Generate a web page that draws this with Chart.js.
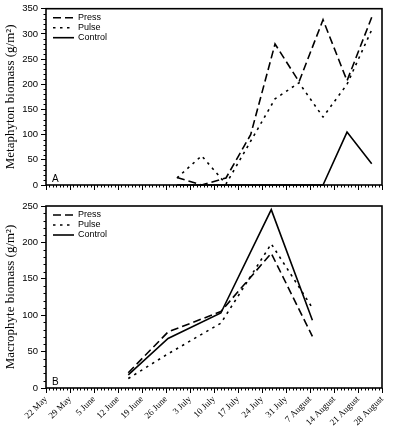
<!DOCTYPE html>
<html>
<head>
<meta charset="utf-8">
<script src="https://cdn.jsdelivr.net/npm/chart.js@4/dist/chart.umd.min.js"></script>
<style>
  html, body { margin: 0; padding: 0; background: #fff; }
  #wrap { position: relative; width: 398px; height: 430px; }
  #c1 { position: absolute; left: 0; top: 0; }
  #c2 { position: absolute; left: 0; top: 195px; }
</style>
</head>
<body>
<div id="wrap">
  <canvas id="c1" width="398" height="195"></canvas>
  <canvas id="c2" width="398" height="235"></canvas>
</div>
<script>
// ---- tick labels (x axis: weekly, days since 22 May) ----
const weekLabels = ['22 May','29 May','5 June','12 June','19 June','26 June','3 July','10 July',
                    '17 July','24 July','31 July','7 August','14 August','21 August','28 August'];
const seriesNames = ['Press', 'Pulse', 'Control'];

// ---- Panel A: Metaphyton biomass ----
const topDays    = [38.2, 45.4, 52.5, 59.7, 66.8, 73.8, 80.8, 87.8, 95.0];
const topPress   = [15, 0, 14, 100, 280, 205, 328, 207, 333];
const topPulse   = [14, 58, 2, 87, 171, 203, 135, 200, 308];
const topControl = [0, 0, 0, 0, 0, 0, 0, 105, 42];

// ---- Panel B: Macrophyte biomass ----
const botDays    = [24.0, 35.6, 51.0, 65.7, 77.7];
const botPress   = [21, 77, 105, 185, 71];
const botPulse   = [13, 47, 89, 198, 110];
const botControl = [18, 68, 103, 245, 93];

const dashes = { Press: [8, 4], Pulse: [2.5, 4.5], Control: [] };

function pts(xs, ys) { return xs.map((x, i) => ({ x: x, y: ys[i] })); }

function makeDatasets(xs, arrs) {
  return seriesNames.map((n, i) => ({
    label: n,
    data: pts(xs, arrs[i]),
    borderColor: '#000',
    borderWidth: 1.6,
    borderDash: dashes[n],
    pointRadius: 0,
    tension: 0,
    fill: false,
    clip: 4
  }));
}

const decoPlugin = {
  id: 'deco',
  afterDraw(chart, args, opts) {
    const ctx = chart.ctx, a = chart.chartArea;
    const x = chart.scales.x, y = chart.scales.y;
    ctx.save();
    ctx.strokeStyle = '#000';
    ctx.lineWidth = 1;
    ctx.setLineDash([]);
    ctx.beginPath();
    for (let d = x.min; d <= x.max; d++) {
      if (d % 7 === 0) continue;
      const px = Math.round(x.getPixelForValue(d)) + 0.5;
      ctx.moveTo(px, a.bottom); ctx.lineTo(px, a.bottom + 2.5);
    }
    for (let v = y.min; v <= y.max; v += 10) {
      if (v % 50 === 0) continue;
      const py = Math.round(y.getPixelForValue(v)) + 0.5;
      ctx.moveTo(a.left, py); ctx.lineTo(a.left - 2.5, py);
    }
    ctx.stroke();
    ctx.lineWidth = 1.6;
    ctx.strokeRect(a.left, a.top, a.right - a.left, a.bottom - a.top);

    // legend
    ctx.font = '9px "Liberation Sans", Arial, sans-serif';
    ctx.fillStyle = '#000';
    ctx.textBaseline = 'middle';
    ctx.textAlign = 'left';
    chart.data.datasets.forEach((ds, i) => {
      const ly = a.top + 9 + i * 10;
      ctx.beginPath();
      ctx.lineWidth = 1.6;
      ctx.setLineDash(ds.borderDash);
      ctx.moveTo(a.left + 7, ly); ctx.lineTo(a.left + 28, ly);
      ctx.stroke();
      ctx.setLineDash([]);
      ctx.fillText(ds.label, a.left + 32, ly);
    });
    // panel letter
    ctx.font = '10px "Liberation Sans", Arial, sans-serif';
    ctx.textBaseline = 'alphabetic';
    ctx.fillText(opts.letter, a.left + 6, a.bottom - 3);
    ctx.restore();
  }
};

function makeChart(id, xs, arrs, yMax, title, letter, showX, xHeight, padTop) {
  return new Chart(document.getElementById(id), {
    type: 'line',
    data: { datasets: makeDatasets(xs, arrs) },
    options: {
      responsive: false,
      animation: false,
      layout: { padding: { left: 0, right: 16, top: padTop, bottom: 0 } },
      plugins: { legend: { display: false }, tooltip: { enabled: false }, deco: { letter: letter } },
      scales: {
        x: {
          type: 'linear', min: 0, max: 98,
          border: { display: false },
          grid: { drawOnChartArea: false, drawTicks: true, tickLength: 5, color: '#000', lineWidth: 1 },
          ticks: {
            display: showX, stepSize: 7, autoSkip: false, maxRotation: 45, minRotation: 45,
            padding: 1, color: '#000',
            font: { family: '"Liberation Serif", "Times New Roman", serif', size: 9 },
            callback: (v) => weekLabels[Math.round(v / 7)]
          },
          afterFit: (s) => { s.height = xHeight; }
        },
        y: {
          min: 0, max: yMax,
          border: { display: false },
          grid: { drawOnChartArea: false, drawTicks: true, tickLength: 5, color: '#000', lineWidth: 1 },
          ticks: {
            stepSize: 50, padding: 3, color: '#000',
            font: { family: '"Liberation Sans", Arial, sans-serif', size: 9.5 }
          },
          title: {
            display: true, text: title, color: '#000', padding: { top: 3, bottom: 0 },
            font: { family: '"Liberation Serif", "Times New Roman", serif', size: 13 }
          },
          afterFit: (s) => { s.width = 46; }
        }
      }
    },
    plugins: [decoPlugin]
  });
}

makeChart('c1', topDays, [topPress, topPulse, topControl], 350,
          'Metaphyton biomass (g/m²)', 'A', false, 10, 4);
makeChart('c2', botDays, [botPress, botPulse, botControl], 250,
          'Macrophyte biomass (g/m²)', 'B', true, 42, 11);
</script>
</body>
</html>
